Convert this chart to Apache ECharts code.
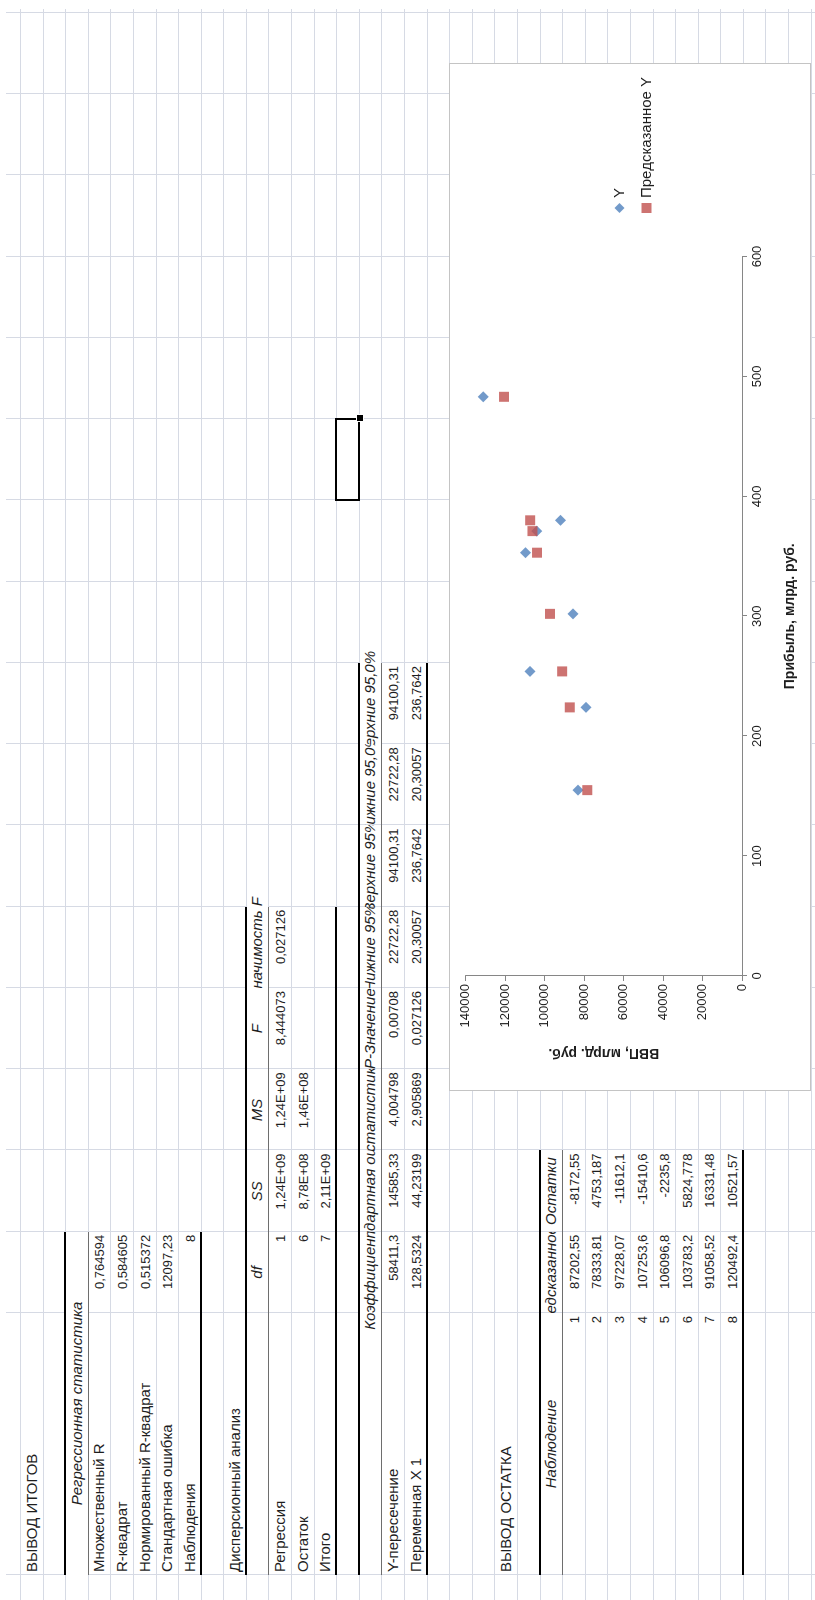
<!DOCTYPE html>
<html>
<head>
<meta charset="utf-8">
<script src="https://cdn.jsdelivr.net/npm/echarts@6.0.0/dist/echarts.min.js"></script>
<style>
html,body{margin:0;padding:0;background:#fff;overflow:hidden;width:815px;height:1600px;}
#page{position:absolute;left:0;top:0;width:1600px;height:815px;transform-origin:0 0;transform:translate(0,1600px) rotate(-90deg);background:#fff;font-family:"Liberation Sans",Arial,sans-serif;font-size:15px;color:#1e1e1e;overflow:hidden;}
.gl{position:absolute;background:#d6dae4;}
.cell{position:absolute;overflow:hidden;}
.cell span{position:absolute;bottom:4px;white-space:nowrap;line-height:1;}
.cell span.num{font-size:13px;}
.bd{position:absolute;}
#chart{position:absolute;left:509px;top:449px;width:1028px;height:362px;box-sizing:border-box;border:1px solid #c4c4c4;background:#fff;}
#sel{position:absolute;box-sizing:border-box;border:2px solid #000;}
#handle{position:absolute;width:6px;height:6px;background:#000;border:1px solid #fff;}
</style>
</head>
<body>
<div id="page"></div>
<script>
// ---------- data ----------
const profit = [224, 155, 302, 380, 371, 353, 254, 483];           // Прибыль, млрд. руб.
const gdp = [79030, 83087, 85616, 91843, 103861, 109608, 107390, 131014]; // Y (ВВП)
const predicted = [87202.55, 78333.81, 97228.07, 107253.6, 106096.8, 103783.2, 91058.52, 120492.4];
const residuals = [-8172.55, 4753.187, -11612.1, -15410.6, -2235.8, 5824.778, 16331.48, 10521.57];
const seriesNames = ['Y', 'Предсказанное Y'];
const xAxisName = 'Прибыль, млрд. руб.';
const yAxisName = 'ВВП, млрд. руб.';

const regStatLabels = ['Множественный R', 'R-квадрат', 'Нормированный R-квадрат', 'Стандартная ошибка', 'Наблюдения'];
const regStatValues = ['0,764594', '0,584605', '0,515372', '12097,23', '8'];
const anovaHeader = ['df', 'SS', 'MS', 'F', 'Значимость F'];
const anovaLabels = ['Регрессия', 'Остаток', 'Итого'];
const anovaValues = [['1', '1,24E+09', '1,24E+09', '8,444073', '0,027126'], ['6', '8,78E+08', '1,46E+08'], ['7', '2,11E+09']];
const coefHeader = ['Коэффициенты', 'Стандартная ошибка', 't-статистика', 'P-Значение', 'Нижние 95%', 'Верхние 95%', 'Нижние 95,0%', 'Верхние 95,0%'];
const coefLabels = ['Y-пересечение', 'Переменная X 1'];
const coefValues = [
  ['58411,3', '14585,33', '4,004798', '0,00708', '22722,28', '94100,31', '22722,28', '94100,31'],
  ['128,5324', '44,23199', '2,905869', '0,027126', '20,30057', '236,7642', '20,30057', '236,7642']
];
const residHeader = ['Наблюдение', 'Предсказанное Y', 'Остатки'];

// ---------- sheet geometry (unrotated sheet) ----------
const page = document.getElementById('page');
const ROW0 = 20, RH = 22.59;
const COLS = [25, 287];
for (let i = 1; i <= 16; i++) COLS.push(287 + 81.25 * i);
function rowTop(r) { return ROW0 + RH * (r - 1); }
function el(cls, l, t, w, h, bg) {
  const d = document.createElement('div');
  d.className = cls;
  d.style.left = l + 'px'; d.style.top = t + 'px';
  d.style.width = w + 'px'; d.style.height = h + 'px';
  if (bg) d.style.background = bg;
  page.appendChild(d);
  return d;
}
// grid lines
for (let r = 1; r <= 37; r++) { const y = rowTop(r); if (y < 815) el('gl', 0, y, 1591, 1); }
COLS.forEach(x => { if (x <= 1591) el('gl', x, 6, 1, 809); });

function text(r, c0, c1, str, o) {
  o = o || {};
  const l = COLS[c0], w = COLS[c1 + 1] - l;
  const eL = o.overL || 0, eR = o.overR || 0;
  const d = el('cell', l - eL, rowTop(r) + 1, w + eL + eR, RH - 1, o.bg ? '#fff' : null);
  const s = document.createElement('span');
  s.textContent = str;
  if (o.num) s.className = 'num';
  if (o.italic) s.style.fontStyle = 'italic';
  if (o.align === 'center') { s.style.left = (eL + w / 2) + 'px'; s.style.transform = 'translateX(-50%)'; }
  else if (o.align === 'right') s.style.right = (eR + 3) + 'px';
  else s.style.left = (eL + 3) + 'px';
  d.appendChild(s);
}
function hline(r, c0, c1, thick) {
  const l = COLS[c0], w = COLS[c1 + 1] - l;
  const y = rowTop(r);
  el('bd', l, y - (thick ? 1 : 0), w, thick ? 2 : 1, thick ? '#000' : '#6e6e6e');
}
const fmt = v => String(v).replace('.', ',');

// Summary
text(1, 0, 0, 'ВЫВОД ИТОГОВ');
text(3, 0, 1, 'Регрессионная статистика', { align: 'center', italic: true, bg: true });
regStatLabels.forEach((s, i) => { text(4 + i, 0, 0, s); text(4 + i, 1, 1, regStatValues[i], { align: 'right', num: true }); });
hline(3, 0, 1, true); hline(4, 0, 1, false); hline(9, 0, 1, true);

// ANOVA
text(10, 0, 0, 'Дисперсионный анализ');
anovaHeader.forEach((s, i) => text(11, 1 + i, 1 + i, s, { align: 'center', italic: true, overR: i === 4 ? 60 : 0, bg: i === 4 }));
anovaLabels.forEach((s, i) => {
  text(12 + i, 0, 0, s);
  anovaValues[i].forEach((v, j) => text(12 + i, 1 + j, 1 + j, v, { align: 'right', num: true }));
});
hline(11, 0, 5, true); hline(12, 0, 5, false); hline(15, 0, 5, true);

// Coefficients
coefHeader.forEach((s, i) => text(16, 1 + i, 1 + i, s, { align: 'center', italic: true, overL: i === 0 ? 40 : 0, overR: i === 7 ? 40 : 0, bg: i === 7 || i === 0 }));
coefLabels.forEach((s, i) => {
  text(17 + i, 0, 0, s);
  coefValues[i].forEach((v, j) => text(17 + i, 1 + j, 1 + j, v, { align: 'right', num: true }));
});
hline(16, 0, 8, true); hline(17, 0, 8, false); hline(19, 0, 8, true);

// Residuals
text(22, 0, 0, 'ВЫВОД ОСТАТКА');
residHeader.forEach((s, i) => text(24, i, i, s, { align: 'center', italic: true }));
predicted.forEach((p, i) => {
  text(25 + i, 0, 0, String(i + 1), { align: 'right', num: true });
  text(25 + i, 1, 1, fmt(p), { align: 'right', num: true });
  text(25 + i, 2, 2, fmt(residuals[i]), { align: 'right', num: true });
});
hline(24, 0, 2, true); hline(25, 0, 2, false); hline(33, 0, 2, true);

// active cell
const sel = el('', COLS[11] - 1, rowTop(15) - 1, COLS[12] - COLS[11] + 2, RH + 2);
sel.id = 'sel';
const hd = el('', COLS[12] - 3, rowTop(16) - 3, 6, 6);
hd.id = 'handle';

// ---------- chart ----------
const chartDiv = document.createElement('div');
chartDiv.id = 'chart';
page.appendChild(chartDiv);
const chart = echarts.init(chartDiv, null, { renderer: 'canvas' });
const axisColor = '#868686';
const fontFam = '"Liberation Sans", Arial, sans-serif';
chart.setOption({
  animation: false,
  backgroundColor: '#fff',
  textStyle: { fontFamily: fontFam },
  grid: { left: 114, right: 192.5, top: 15.5, bottom: 68 },
  legend: {
    orient: 'vertical', left: 872, top: 157,
    itemWidth: 10, itemHeight: 10, itemGap: 12,
    textStyle: { fontSize: 15, color: '#1e1e1e', fontFamily: fontFam },
    data: [{ name: seriesNames[0], icon: 'diamond' }, { name: seriesNames[1], icon: 'rect' }]
  },
  xAxis: {
    type: 'value', min: 0, max: 600, interval: 100,
    name: xAxisName, nameLocation: 'middle', nameGap: 41,
    nameTextStyle: { fontWeight: 'bold', fontSize: 14, color: '#1e1e1e', fontFamily: fontFam },
    axisLine: { show: true, onZero: false, lineStyle: { color: axisColor } },
    axisTick: { show: true, length: 5, lineStyle: { color: axisColor } },
    axisLabel: { fontSize: 13, color: '#1e1e1e', margin: 9, fontFamily: fontFam, formatter: v => String(v) },
    splitLine: { show: false }
  },
  yAxis: {
    type: 'value', min: 0, max: 140000, interval: 20000,
    name: yAxisName, nameLocation: 'middle', nameRotate: 90, nameGap: 70,
    nameTextStyle: { fontWeight: 'bold', fontSize: 14, color: '#1e1e1e', fontFamily: fontFam },
    axisLine: { show: true, onZero: false, lineStyle: { color: axisColor } },
    axisTick: { show: true, length: 5, lineStyle: { color: axisColor } },
    axisLabel: { fontSize: 13, color: '#1e1e1e', margin: 8, fontFamily: fontFam, formatter: v => String(v) },
    splitLine: { show: false }
  },
  series: [
    {
      name: seriesNames[0], type: 'scatter', symbol: 'diamond', symbolSize: 11,
      itemStyle: { color: '#4F81BD' },
      data: profit.map((x, i) => [x, gdp[i]])
    },
    {
      name: seriesNames[1], type: 'scatter', symbol: 'rect', symbolSize: 10,
      itemStyle: { color: '#C0504D' },
      data: profit.map((x, i) => [x, predicted[i]])
    }
  ]
});
</script>
</body>
</html>
